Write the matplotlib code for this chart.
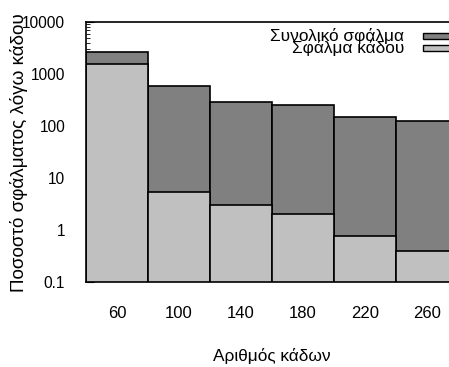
import matplotlib.pyplot as plt
import matplotlib.patches as mpatches
from matplotlib.ticker import LogLocator, FixedLocator, NullFormatter

plt.rcParams['font.family'] = ['Liberation Sans', 'DejaVu Sans']

buckets = [60, 100, 140, 180, 220, 260]
total_error = [2600, 600, 285, 255, 150, 126]
bucket_error = [1550, 5.5, 3.0, 2.0, 0.75, 0.39]
y_ticks = [0.1, 1, 10, 100, 1000, 10000]
y_labels = ["0.1", "1", "10", "100", "1000", "10000"]
series_names = ["Συνολικό σφάλμα", "Σφάλμα κάδου"]

dark = "#808080"
light = "#c0c0c0"

fig = plt.figure(figsize=(4.49, 3.67), dpi=100)
# axes run a little past the right border of the figure
ax = fig.add_axes([86 / 449, (367 - 282) / 367, 372 / 449, 260 / 367])
ax.set_axisbelow(True)

ax.bar(buckets, total_error, width=40, color=dark, edgecolor="black", linewidth=1.2)
ax.bar(buckets, bucket_error, width=40, color=light, edgecolor="black", linewidth=1.2)

ax.set_yscale("log")
ax.set_ylim(0.1, 10000)
ax.set_xlim(40, 280)

ax.yaxis.set_major_locator(FixedLocator(y_ticks))
ax.set_yticklabels(y_labels)
ax.yaxis.set_minor_locator(LogLocator(base=10, subs=range(2, 10)))
ax.yaxis.set_minor_formatter(NullFormatter())
ax.set_xticks(buckets)
ax.set_xticklabels([str(b) for b in buckets])

ax.tick_params(axis="x", length=0, pad=17, labelsize=12)
ax.tick_params(axis="y", which="major", direction="in", length=6, pad=15, labelsize=11.2)
ax.tick_params(axis="y", which="minor", direction="in", length=3)
for s in ax.spines.values():
    s.set_linewidth(1.2)

ax.set_ylabel("Ποσοστό σφάλματος λόγω κάδου", fontsize=13.6)
ax.yaxis.set_label_coords(-0.155, 0.496)
ax.set_xlabel("Αριθμός κάδων", fontsize=12.4)
ax.xaxis.set_label_coords(0.5, -0.255)

# key: right-aligned names with a small swatch after each
swatch_colors = [dark, light]
text_y = [0.927, 0.881]
for name, col, ty in zip(series_names, swatch_colors, text_y):
    ax.text(0.855, ty, name, transform=ax.transAxes, ha="right", va="baseline",
            fontsize=12.4)
    ax.add_patch(mpatches.Rectangle((0.905, ty + 0.007), 0.088, 0.024,
                                    transform=ax.transAxes, facecolor=col,
                                    edgecolor="black", linewidth=1.0,
                                    clip_on=False, zorder=5))

fig.savefig("out.png", dpi=100)
